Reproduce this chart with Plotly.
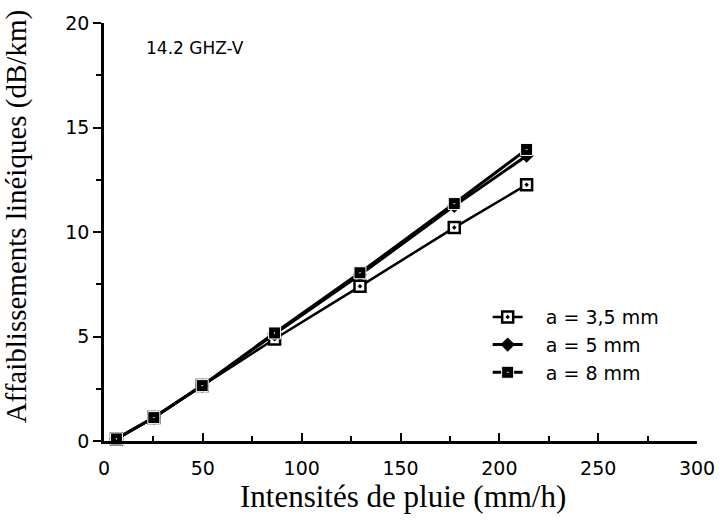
import plotly.graph_objects as go

rain = [6.3, 25.2, 49.7, 86.3, 129.5, 177.2, 213.8]
att_35 = [0.1, 1.12, 2.65, 4.88, 7.40, 10.21, 12.26]
att_5 = [0.1, 1.12, 2.65, 5.12, 7.95, 11.25, 13.65]
att_8 = [0.1, 1.12, 2.65, 5.17, 8.05, 11.36, 13.95]

labels = ["a = 3,5 mm", "a = 5 mm", "a = 8 mm"]
x_ticks = [0, 50, 100, 150, 200, 250, 300]
y_ticks = [0, 5, 10, 15, 20]

SANS = "DejaVu Sans, Arial"
SERIF = "Liberation Serif, Times New Roman"
pad = "\u00a0\u00a0\u00a0"

fig = go.Figure()
fig.add_trace(go.Scatter(
    x=rain, y=att_35, name=pad + labels[0], mode="lines+markers",
    line=dict(color="black", width=2.5),
    marker=dict(symbol="square-dot", size=11, color="white",
                line=dict(color="black", width=2.5)),
    cliponaxis=False))
fig.add_trace(go.Scatter(
    x=rain, y=att_5, name=pad + labels[1], mode="lines+markers",
    line=dict(color="black", width=3),
    marker=dict(symbol="diamond", size=11, color="black"),
    cliponaxis=False))
fig.add_trace(go.Scatter(
    x=rain, y=att_8, name=pad + labels[2], mode="lines+markers",
    line=dict(color="black", width=3),
    marker=dict(symbol="square-dot", size=12, color="black",
                line=dict(color="white", width=1)),
    cliponaxis=False))

fig.add_annotation(text="14.2 GHZ-V", xref="paper", yref="paper",
                   x=0.068, y=0.94, xanchor="left", yanchor="middle",
                   showarrow=False,
                   font=dict(family=SANS, size=17, color="black"))
fig.add_annotation(text="Intensités de pluie (mm/h)", xref="paper", yref="paper",
                   x=0.505, y=-0.132, xanchor="center", yanchor="middle",
                   showarrow=False,
                   font=dict(family=SERIF, size=31, color="black"))
fig.add_annotation(text="Affaiblissements linéiques (dB/km)", xref="paper", yref="paper",
                   x=-0.147, y=0.537, xanchor="center", yanchor="middle",
                   textangle=-90, showarrow=False,
                   font=dict(family=SERIF, size=29, color="black"))

fig.update_layout(
    width=727, height=530,
    margin=dict(l=104, r=24, t=21, b=89),
    paper_bgcolor="white", plot_bgcolor="white",
    showlegend=True,
    legend=dict(x=0.647, y=0.342, xanchor="left", yanchor="top",
                bgcolor="rgba(0,0,0,0)",
                font=dict(family=SANS, size=19, color="black"),
                itemwidth=30),
    xaxis=dict(range=[0, 300], tickvals=x_ticks, ticktext=[str(v) for v in x_ticks],
               showgrid=False, zeroline=False, showline=True, linecolor="black",
               linewidth=2.5, ticks="inside", ticklen=8, tickwidth=2, tickcolor="black",
               minor=dict(ticks="inside", ticklen=5, tickwidth=2, dtick=25, tick0=0,
                          tickcolor="black", showgrid=False),
               ticklabelstandoff=8,
               tickfont=dict(family=SANS, size=19, color="black")),
    yaxis=dict(range=[0, 20], tickvals=y_ticks, ticktext=[str(v) for v in y_ticks],
               showgrid=False, zeroline=False, showline=True, linecolor="black",
               linewidth=2.5, ticks="outside", ticklen=8, tickwidth=2, tickcolor="black",
               minor=dict(ticks="outside", ticklen=5, tickwidth=2, dtick=2.5, tick0=0,
                          tickcolor="black", showgrid=False),
               tickfont=dict(family=SANS, size=19, color="black")),
)

fig.write_html("out.html")
